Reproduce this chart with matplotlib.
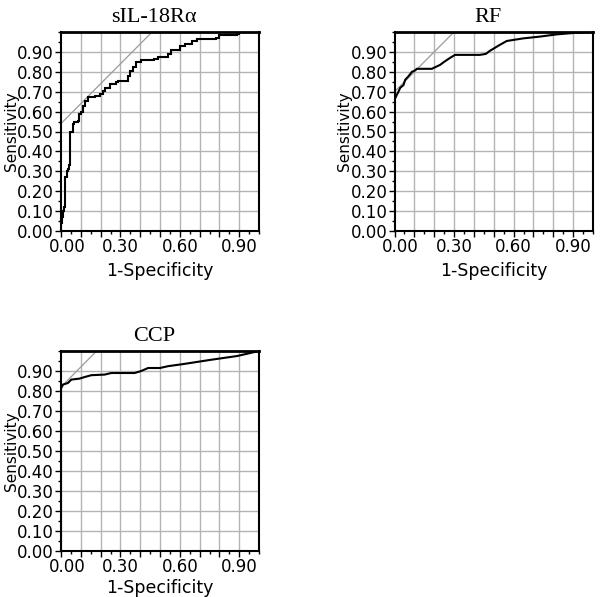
import matplotlib
matplotlib.use("Agg")
import matplotlib.pyplot as plt
import matplotlib.transforms as mtransforms
from matplotlib.ticker import MultipleLocator, FixedLocator, FixedFormatter

# ---- data ----
titles = ["sIL-18Rα", "RF", "CCP"]

sil_fpr = [0.0, 0.0, 0.005, 0.005, 0.01, 0.01, 0.015, 0.015, 0.02, 0.02, 0.022, 0.028, 0.03,
           0.035, 0.04, 0.045, 0.045, 0.062, 0.062, 0.068, 0.085, 0.09, 0.10, 0.11, 0.12,
           0.135, 0.17, 0.195, 0.21, 0.22, 0.245, 0.28, 0.29, 0.33, 0.338, 0.346, 0.363,
           0.38, 0.405, 0.47, 0.49, 0.525, 0.541, 0.558, 0.60, 0.625, 0.66, 0.685, 0.785,
           0.80, 0.89, 0.90, 1.0]
sil_tpr = [0.0, 0.04, 0.04, 0.07, 0.07, 0.10, 0.10, 0.12, 0.12, 0.18, 0.27, 0.28, 0.30,
           0.31, 0.33, 0.40, 0.50, 0.50, 0.54, 0.55, 0.555, 0.59, 0.60, 0.63, 0.655,
           0.672, 0.68, 0.69, 0.705, 0.72, 0.74, 0.748, 0.755, 0.755, 0.78, 0.805, 0.822,
           0.847, 0.86, 0.862, 0.872, 0.875, 0.889, 0.91, 0.93, 0.94, 0.955, 0.967, 0.972,
           0.983, 0.989, 1.0, 1.0]

rf_fpr = [0.0, 0.0, 0.0, 0.005, 0.012, 0.02, 0.029, 0.045, 0.054, 0.07, 0.088, 0.10, 0.113,
          0.188, 0.23, 0.25, 0.28, 0.305, 0.43, 0.46, 0.48, 0.53, 0.566, 0.649, 0.733,
          0.817, 0.90, 1.0]
rf_tpr = [0.0, 0.40, 0.66, 0.67, 0.685, 0.70, 0.72, 0.733, 0.76, 0.777, 0.80, 0.805, 0.815,
          0.815, 0.835, 0.85, 0.87, 0.885, 0.885, 0.89, 0.905, 0.935, 0.955, 0.968, 0.977,
          0.988, 0.995, 1.0]

ccp_fpr = [0.0, 0.0, 0.0, 0.01, 0.035, 0.052, 0.094, 0.12, 0.153, 0.22, 0.254, 0.372, 0.405,
           0.44, 0.50, 0.54, 0.62, 0.75, 0.89, 1.0]
ccp_tpr = [0.0, 0.80, 0.812, 0.832, 0.84, 0.857, 0.862, 0.87, 0.879, 0.882, 0.89, 0.89, 0.90,
           0.915, 0.915, 0.924, 0.935, 0.955, 0.975, 1.0]

# tangent reference lines (slope 1) intercepts
intercepts = [0.54, 0.70, 0.82]

y_ticks = [0.0, 0.1, 0.2, 0.3, 0.4, 0.5, 0.6, 0.7, 0.8, 0.9]
y_labels = ["0.00", "0.10", "0.20", "0.30", "0.40", "0.50", "0.60", "0.70", "0.80", "0.90"]
x_ticks = [0.0, 0.1, 0.2, 0.3, 0.4, 0.5, 0.6, 0.7, 0.8, 0.9]
x_labels = ["0.00", "", "", "0.30", "", "", "0.60", "", "", "0.90"]

fig = plt.figure(figsize=(6.0, 5.97), dpi=100)

positions = [
    [61 / 600, 1 - 231 / 597, 198 / 600, 199 / 597],
    [394.5 / 600, 1 - 231 / 597, 198.5 / 600, 199 / 597],
    [61 / 600, 1 - 551 / 597, 198 / 600, 200 / 597],
]
xlabel_y = [-0.155, -0.155, -0.14]
curves = [(sil_fpr, sil_tpr, "steps-post"), (rf_fpr, rf_tpr, "default"), (ccp_fpr, ccp_tpr, "default")]

for pos, title, (fx, ty, ds), b, xly in zip(positions, titles, curves, intercepts, xlabel_y):
    ax = fig.add_axes(pos)
    ax.set_xlim(0, 1)
    ax.set_ylim(0, 1)
    # grid
    for g in x_ticks[1:]:
        ax.axvline(g, color="#b4b4b4", lw=1.0, zorder=1)
    for g in y_ticks[1:]:
        ax.axhline(g, color="#b4b4b4", lw=1.0, zorder=1)
    # tangent line
    ax.plot([0, 1 - b], [b, 1.0], color="#9a9a9a", lw=0.9, zorder=2)
    # curve
    ax.plot(fx, ty, color="black", lw=1.5, drawstyle=ds, zorder=3, solid_joinstyle="miter")

    ax.xaxis.set_major_locator(FixedLocator(x_ticks))
    ax.xaxis.set_major_formatter(FixedFormatter(x_labels))
    ax.xaxis.set_minor_locator(MultipleLocator(0.05))
    ax.yaxis.set_major_locator(FixedLocator(y_ticks))
    ax.yaxis.set_major_formatter(FixedFormatter(y_labels))
    ax.yaxis.set_minor_locator(MultipleLocator(0.05))
    ax.tick_params(axis="both", which="major", direction="out", length=4, width=1.0,
                   pad=1, labelsize=12, colors="black")
    ax.tick_params(axis="both", which="minor", direction="out", length=2.5, width=1.0)
    for lab in ax.get_xticklabels() + ax.get_yticklabels():
        lab.set_family("DejaVu Sans")
    # first x label sits a little to the right of the origin
    first = ax.get_xticklabels()[0]
    first.set_transform(first.get_transform() +
                        mtransforms.ScaledTranslation(6 / 100, 0, fig.dpi_scale_trans))
    for sp in ax.spines.values():
        sp.set_linewidth(1.5)
        sp.set_color("black")
    ax.spines["top"].set_linewidth(2.0)

    ax.set_xlabel("1-Specificity", fontsize=12.5, family="DejaVu Sans")
    ax.set_ylabel("Sensitivity", fontsize=11, family="DejaVu Sans")
    ax.xaxis.set_label_coords(0.5, xly)
    ax.yaxis.set_label_coords(-0.213, 0.5)
    ax.set_title(title, fontsize=16, family="Liberation Serif", x=0.47, pad=7)

fig.savefig("out.png", dpi=100)
